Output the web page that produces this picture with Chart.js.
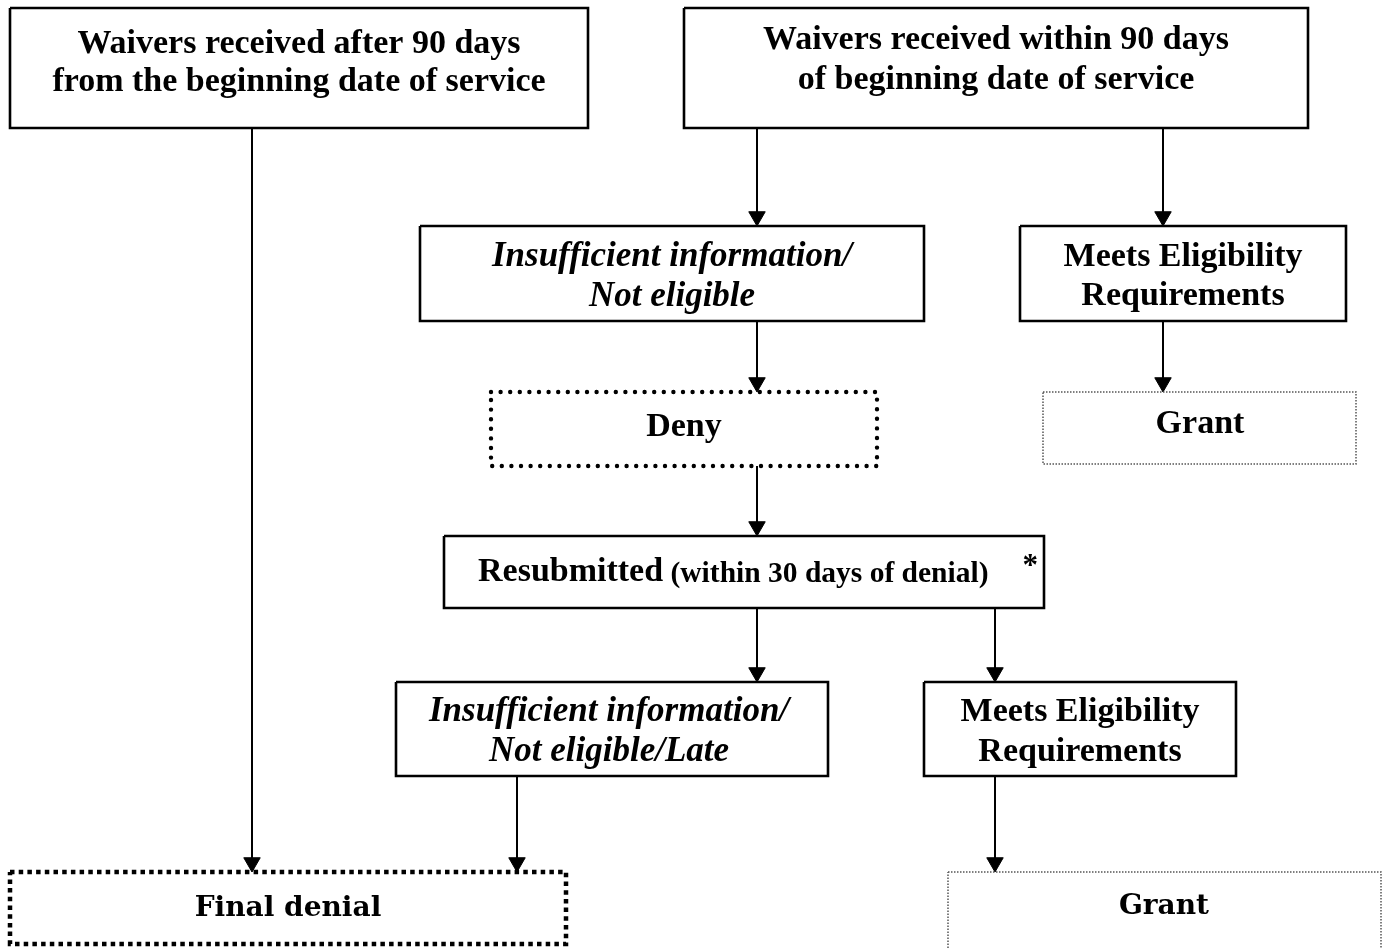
<!DOCTYPE html>
<html>
<head>
<meta charset="utf-8">
<script src="https://cdn.jsdelivr.net/npm/chart.js@4.4.1/dist/chart.umd.min.js"></script>
<style>
html,body{margin:0;padding:0;background:#fff;}
#wrap{width:1382px;height:948px;position:relative;}
</style>
</head>
<body>
<div id="wrap"><canvas id="c" width="1382" height="948"></canvas></div>
<script>
// ---- Flowchart data (diagram units = page pixels) ----
const nodeIds      = ['after90','within90','insuff1','meets1','deny','grant1','resub','insuff2','meets2','final','grant2'];
const nodeLeft     = [10,   684,  420,  1020, 491,  1043, 444,  396,  924,  10,   948];
const nodeRight    = [588,  1308, 924,  1346, 877,  1356, 1044, 828,  1236, 566,  1381];
const nodeTop      = [8,    8,    226,  226,  392,  392,  536,  682,  682,  872,  872];
const nodeBottom   = [128,  128,  321,  321,  466,  464,  608,  776,  776,  944,  960];
const nodeBorder   = ['solid','solid','solid','solid','dots','thin','solid','solid','solid','squares','thin'];
const nodeLines    = [
  ['Waivers received after 90 days','from the beginning date of service'],
  ['Waivers received within 90 days','of beginning date of service'],
  ['Insufficient information/','Not eligible'],
  ['Meets Eligibility','Requirements'],
  ['Deny'],
  ['Grant'],
  ['Resubmitted'],
  ['Insufficient information/','Not eligible/Late'],
  ['Meets Eligibility','Requirements'],
  ['Final denial'],
  ['Grant']
];
const nodeTextX    = [299, 996, 672, 1183, 684, 1200, 758, 609, 1080, 288, 1164];
const nodeTextY    = [[44,82],[40,80],[257,297],[257,296],[427],[424],[572],[712,752],[712,752],[909],[907]];
const nodeFont     = ['b','b','bi','b','b','b','b','bi','b','p','p'];
const resubParts   = ['Resubmitted',' (within 30 days of denial)','*'];

// connectors: x, yFrom, yTo (arrow at yTo)
const edgeX    = [252, 757, 1163, 757, 1163, 757, 757, 995, 517, 995];
const edgeFrom = [128, 128, 128,  321, 321,  466, 608, 608, 776, 776];
const edgeTo   = [872, 226, 226,  392, 392,  536, 682, 682, 872, 872];

const W = 1382, H = 948;
const ARROW_R = 9.5;

const datasets = [];
// box outlines
nodeIds.forEach((id,i)=>{
  const l=nodeLeft[i], r=nodeRight[i], t=nodeTop[i], b=nodeBottom[i];
  const st = nodeBorder[i];
  const ds = {
    label: id,
    data: [{x:l,y:t},{x:r,y:t},{x:r,y:b},{x:l,y:b},{x:l,y:t}],
    showLine: true, pointRadius: 0, borderColor: '#000', backgroundColor: '#000',
    borderWidth: 2.6, tension: 0, borderJoinStyle: 'miter', borderCapStyle: 'butt', fill: false
  };
  if (st === 'dots') { ds.borderDash = [0, 9.6]; ds.borderWidth = 4.4; ds.borderCapStyle = 'round'; }
  if (st === 'squares') { ds.borderDash = [4.5, 4.2]; ds.borderWidth = 4.5; }
  if (st === 'thin') { ds.borderDash = [1.5, 1.5]; ds.borderWidth = 1.5; ds.borderColor = '#555'; }
  datasets.push(ds);
});
// connector lines
edgeX.forEach((x,i)=>{
  datasets.push({
    label: 'edge'+i,
    data: [{x:x,y:edgeFrom[i]},{x:x,y:edgeTo[i]-6}],
    showLine: true, pointRadius: 0, borderColor: '#000', borderWidth: 2, fill:false
  });
});
// arrowheads
datasets.push({
  label: 'arrows',
  data: edgeX.map((x,i)=>({x:x, y:edgeTo[i]-ARROW_R})),
  showLine: false, pointStyle: 'triangle', rotation: 180,
  pointRadius: ARROW_R, pointBackgroundColor: '#000', pointBorderColor: '#000', pointBorderWidth: 1
});

const fonts = {
  b: 'bold 34px "Liberation Serif", "Times New Roman", serif',
  bi: 'italic bold 35px "Liberation Serif", "Times New Roman", serif',
  p: 'bold 28px "DejaVu Serif", serif'
};

const textPlugin = {
  id: 'flowText',
  afterDatasetsDraw(chart){
    const ctx = chart.ctx, xs = chart.scales.x, ys = chart.scales.y;
    ctx.save();
    ctx.fillStyle = '#000';
    ctx.textBaseline = 'middle';
    nodeIds.forEach((id,i)=>{
      const cx = xs.getPixelForValue(nodeTextX[i]);
      if (id === 'resub') {
        const fs = ['bold 34px "Liberation Serif", serif','bold 29.5px "Liberation Serif", serif','bold 31px "Liberation Serif", serif'];
        const gaps = [0, 0, 34];
        const widths = resubParts.map((p,k)=>{ctx.font=fs[k]; return ctx.measureText(p).width;});
        const total = widths.reduce((a,b)=>a+b,0) + gaps.reduce((a,b)=>a+b,0);
        let x = cx - total/2;
        const y = ys.getPixelForValue(nodeTextY[i][0]);
        ctx.textAlign = 'left';
        resubParts.forEach((p,k)=>{
          ctx.font = fs[k];
          x += gaps[k];
          ctx.fillText(p, x, k===2 ? y-5 : y+ (k===1?2:0));
          x += widths[k];
        });
        return;
      }
      ctx.font = fonts[nodeFont[i]];
      ctx.textAlign = 'center';
      nodeLines[i].forEach((t,k)=>{
        ctx.fillText(t, cx, ys.getPixelForValue(nodeTextY[i][k]));
      });
    });
    ctx.restore();
  }
};

new Chart(document.getElementById('c'), {
  type: 'scatter',
  data: { datasets },
  options: {
    responsive: false, animation: false, devicePixelRatio: 1,
    layout: { padding: 0, autoPadding: false },
    plugins: { legend: {display:false}, tooltip: {enabled:false}, title:{display:false} },
    scales: {
      x: { type:'linear', min:0, max:W, display:false },
      y: { type:'linear', min:0, max:H, reverse:true, display:false }
    },
    elements: { line: { tension: 0 } }
  },
  plugins: [textPlugin]
});
</script>
</body>
</html>
